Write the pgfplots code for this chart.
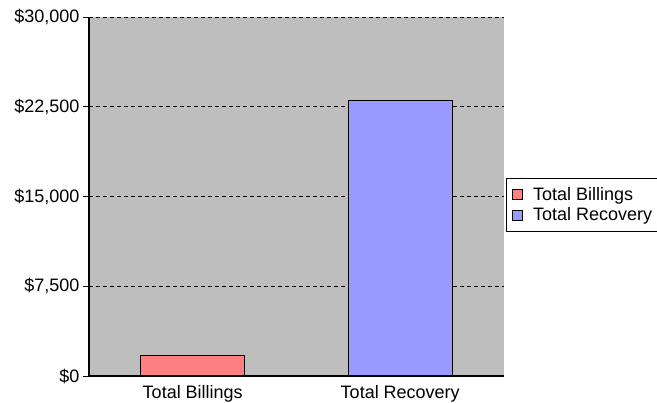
\documentclass[border=0pt]{standalone}
\usepackage{pgfplots}
\pgfplotsset{compat=1.18}
\usepackage{fontspec}
\setmainfont{Liberation Sans}
\definecolor{bgray}{RGB}{190,190,190}
\definecolor{billc}{RGB}{255,128,128}
\definecolor{recc}{RGB}{153,153,255}
\pgfplotsset{sqlegend/.style={legend image code/.code={\draw[##1, draw=black, line width=0.8pt] (0pt,-5pt) rectangle (10pt,5pt);}}}
\begin{document}
\begin{tikzpicture}[x=1pt,y=1pt]
\useasboundingbox (-89,-27) rectangle (568,376);
\begin{axis}[
  at={(0,0)}, anchor=south west,
  scale only axis, width=415pt, height=359pt,
  xmin=-0.5, xmax=1.5, ymin=0, ymax=30000,
  axis x line*=bottom, axis y line*=left,
  axis line style={-, black, line width=1.2pt},
  axis background/.style={fill=bgray},
  xtick={0,1}, xticklabels={Total Billings, Total Recovery},
  x tick style={draw=none},
  ytick={0,7500,15000,22500,30000},
  yticklabels={{\$0},{\$7,500},{\$15,000},{\$22,500},{\$30,000}},
  scaled y ticks=false,
  tick align=outside, major tick length=6pt,
  y tick style={black, line width=0.8pt},
  ymajorgrids, grid style={black, dash pattern=on 4pt off 3pt, line width=0.8pt},
  ticklabel style={font=\fontsize{18}{21}\selectfont},
  ybar, bar width=0.5, bar shift=0pt,
  legend style={at={(rel axis cs:1,0.5515)}, anchor=north west, xshift=2pt,
    draw=black, fill=white, line width=0.8pt, font=\fontsize{18}{21}\selectfont,
    row sep=2pt, inner xsep=6pt, inner ysep=7pt,
    /tikz/every odd column/.append style={column sep=8pt}},
  legend cell align=left,
]
\addplot[fill=billc, draw=black, line width=1pt, sqlegend] coordinates {(0,1700)};
\addplot[fill=recc, draw=black, line width=1pt, sqlegend] coordinates {(1,23000)};
\legend{Total Billings, Total Recovery}
\end{axis}
\end{tikzpicture}
\end{document}
